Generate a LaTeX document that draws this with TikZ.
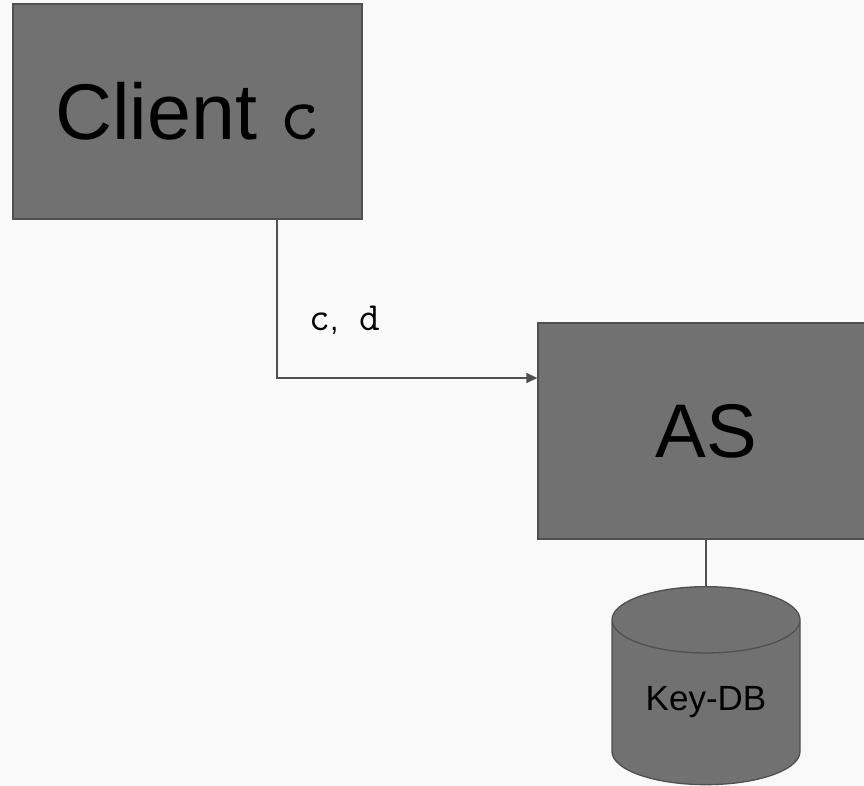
\documentclass[tikz,border=0pt]{standalone}
\usepackage{fontspec}
\setmainfont{Liberation Sans}
\usetikzlibrary{arrows.meta}
\usetikzlibrary{shapes.geometric}

\definecolor{boxfill}{HTML}{717171}
\definecolor{boxline}{HTML}{505050}
\definecolor{paper}{HTML}{F9F9F9}

\tikzset{
  block/.style={draw=boxline, fill=boxfill, line width=1.3pt, inner sep=0pt},
  store/.style={cylinder, shape border rotate=90, aspect=0.55, draw=boxline, fill=boxfill, line width=1.3pt, inner sep=0pt},
  wire/.style={draw=boxline, line width=1.3pt}
}

\begin{document}
\begin{tikzpicture}[x=1pt, y=-1pt]
                \fill[paper] (0,0) rectangle (864,786);
                \clip (0,0) rectangle (864,786);
                \node[block, minimum width=349pt, minimum height=215pt] (client) at (187.5,111.5) {\fontsize{79}{90}\selectfont Client {\ttfamily c}};
                \node[block, minimum width=336pt, minimum height=216pt] (as) at (706,431) {\fontsize{76}{90}\selectfont AS};
                \node[store, minimum width=188pt, minimum height=198pt, anchor=north] (keydb) at (706,586) {\fontsize{35}{40}\selectfont Key-DB};
                \draw[wire, -{Triangle[length=11pt, width=10pt]}] ([xshift=89.5pt]client.south) |- node[pos=0.63, yshift=57.5pt] {\fontsize{40}{44}\selectfont\ttfamily c{\rmfamily\fontsize{30}{34}\selectfont ,} d} ([yshift=53pt]as.west);
                \draw[wire] (as.south) to (keydb.north);
            \end{tikzpicture}
\end{document}
